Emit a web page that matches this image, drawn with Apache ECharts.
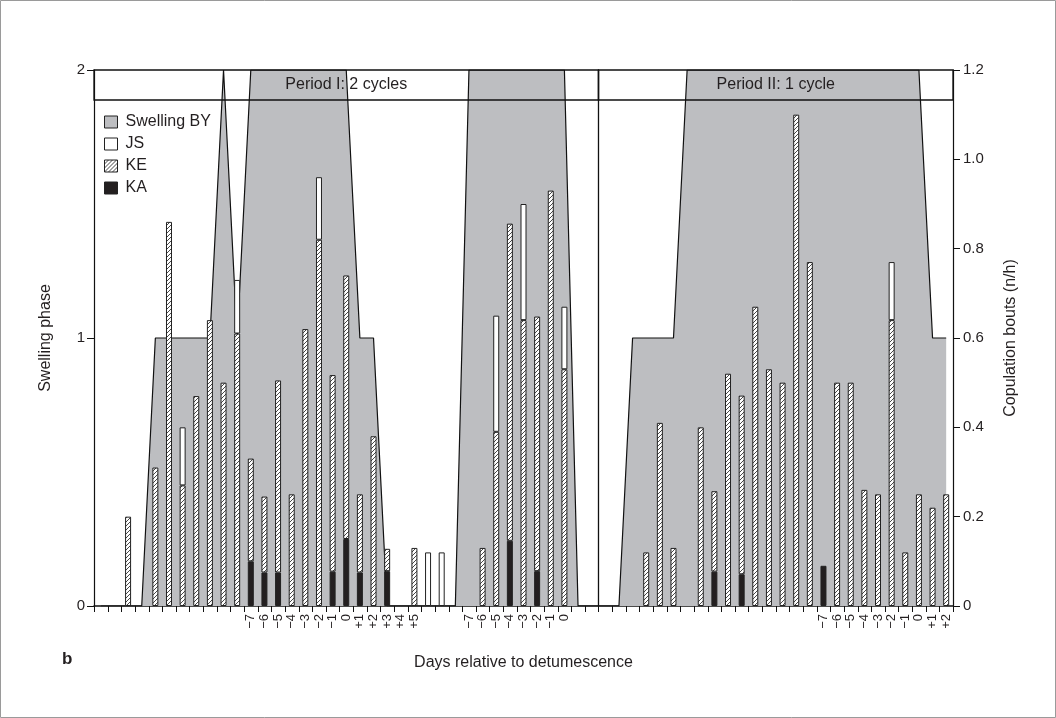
<!DOCTYPE html>
<html><head><meta charset="utf-8">
<script src="https://cdn.jsdelivr.net/npm/echarts@6/dist/echarts.min.js"></script>
<style>html,body{margin:0;padding:0;background:#fff}#c{width:1056px;height:718px}</style>
</head><body><div id="c"></div>
<script>
// ---- data ----
const dayLabels = ['', '', '', '', '', '', '', '', '', '', '',
  '−7', '−6', '−5', '−4', '−3', '−2', '−1', '0', '+1', '+2', '+3', '+4', '+5',
  '', '', '',
  '−7', '−6', '−5', '−4', '−3', '−2', '−1', '0',
  '', '', '', '', '', '', '', '', '', '', '', '', '', '', '', '', '', '',
  '−7', '−6', '−5', '−4', '−3', '−2', '−1', '0', '+1', '+2'];

// swelling phase (left axis, 0–2)
const swelling = [0, 0, 0, 0, 1, 1, 1, 1, 1, 2,
  1, 2, 2, 2, 2, 2, 2, 2, 2, 1,
  1, 0, 0, 0, 0, 0, 0, 2, 2, 2,
  2, 2, 2, 2, 2, 0, 0, 0, 0, 1,
  1, 1, 1, 2, 2, 2, 2, 2, 2, 2,
  2, 2, 2, 2, 2, 2, 2, 2, 2, 2,
  2, 1, 1];

// copulation bouts (right axis, n/h) — stacked segments
const KA = [null, null, null, null, null, null, null, null, null, null,
  null, 0.10, 0.075, 0.075, null, null, null, 0.077, 0.15, 0.075,
  null, 0.078, null, null, null, null, null, null, null, null,
  0.146, null, 0.078, null, null, null, null, null, null, null,
  null, null, null, null, null, 0.077, null, 0.071, null, null,
  null, null, null, 0.09, null, null, null, null, null, null,
  null, null, null];
const KE = [null, null, 0.20, null, 0.31, 0.86, 0.27, 0.47, 0.64, 0.50,
  0.61, 0.23, 0.17, 0.43, 0.25, 0.62, 0.82, 0.44, 0.59, 0.175,
  0.38, 0.05, null, 0.13, null, null, null, null, 0.13, 0.39,
  0.71, 0.64, 0.57, 0.93, 0.53, null, null, null, null, null,
  0.12, 0.41, 0.13, null, 0.40, 0.18, 0.52, 0.40, 0.67, 0.53,
  0.50, 1.10, 0.77, null, 0.50, 0.50, 0.26, 0.25, 0.64, 0.12,
  0.25, 0.22, 0.25];
const JS = [null, null, null, null, null, null, 0.13, null, null, null,
  0.12, null, null, null, null, null, 0.14, null, null, null,
  null, null, null, null, 0.12, 0.12, null, null, null, 0.26,
  null, 0.26, null, null, 0.14, null, null, null, null, null,
  null, null, null, null, null, null, null, null, null, null,
  null, null, null, null, null, null, null, null, 0.13, null,
  null, null, null];

const periods = [
  {label: 'Period I: 2 cycles', from: 0, to: 36},
  {label: 'Period II: 1 cycle', from: 37, to: 62}
];

// ---- styles ----
const FONT = '"Liberation Sans", Arial, Helvetica, sans-serif';
const INK = '#231f20';
const GRAY = '#bdbec1';
function hatch() {
  const c = document.createElement('canvas'); c.width = 4; c.height = 4;
  const g = c.getContext('2d');
  g.fillStyle = '#fff'; g.fillRect(0, 0, 4, 4);
  g.strokeStyle = '#333'; g.lineWidth = 0.9;
  g.beginPath();
  g.moveTo(0, 4); g.lineTo(4, 0);
  g.moveTo(-1, 1); g.lineTo(1, -1);
  g.moveTo(3, 5); g.lineTo(5, 3);
  g.stroke();
  return c;
}
const HATCH = {image: hatch(), repeat: 'repeat'};
const barBorder = {borderColor: '#222', borderWidth: 1};

const chart = echarts.init(document.getElementById('c'), null, {renderer: 'canvas'});
const option = {
  animation: false,
  textStyle: {fontFamily: FONT, color: INK},
  grid: {left: 94, right: 103, top: 70, bottom: 112},
  legend: {
    orient: 'vertical', left: 99, top: 109, itemWidth: 13, itemHeight: 12, itemGap: 6,
    selectedMode: false,
    textStyle: {fontSize: 16, lineHeight: 16, color: INK, fontFamily: FONT, padding: [0, 0, 0, 3]},
    data: [
      {name: 'Swelling BY', icon: 'rect', itemStyle: {color: GRAY, borderColor: '#222', borderWidth: 1}},
      {name: 'JS', icon: 'rect', itemStyle: {color: '#fff', borderColor: '#222', borderWidth: 1}},
      {name: 'KE', icon: 'rect', itemStyle: {color: HATCH, borderColor: '#222', borderWidth: 1}},
      {name: 'KA', icon: 'rect', itemStyle: {color: INK, borderColor: '#222', borderWidth: 1}}
    ]
  },
  xAxis: {
    type: 'category', data: dayLabels, boundaryGap: true,
    name: 'Days relative to detumescence', nameLocation: 'middle', nameGap: 49, nameMoveOverlap: false,
    nameTextStyle: {fontSize: 16, color: INK, fontFamily: FONT},
    axisLine: {show: true, lineStyle: {color: '#111', width: 1.5}},
    axisTick: {show: false},
    axisLabel: {interval: 0, rotate: 90, fontSize: 13, color: INK, margin: 8, fontFamily: FONT}
  },
  yAxis: [
    {
      type: 'value', min: 0, max: 2, interval: 1, position: 'left',
      name: 'Swelling phase', nameLocation: 'middle', nameGap: 40, nameRotate: 90, nameMoveOverlap: false,
      nameTextStyle: {fontSize: 16, color: INK, fontFamily: FONT},
      axisLine: {show: true, lineStyle: {color: '#111', width: 1.2}},
      axisTick: {show: true, length: 7, lineStyle: {color: '#111', width: 1}},
      axisLabel: {fontSize: 15, color: INK, margin: 9, fontFamily: FONT},
      splitLine: {show: false}
    },
    {
      type: 'value', min: 0, max: 1.2, interval: 0.2, position: 'right',
      name: 'Copulation bouts (n/h)', nameLocation: 'middle', nameGap: 50, nameRotate: 90, nameMoveOverlap: false,
      nameTextStyle: {fontSize: 16, color: INK, fontFamily: FONT},
      axisLine: {show: true, lineStyle: {color: '#111', width: 1.2}},
      axisTick: {show: true, length: 7, lineStyle: {color: '#111', width: 1}},
      axisLabel: {fontSize: 15, color: INK, margin: 10, fontFamily: FONT,
        formatter: v => (v === 0 ? '0' : v.toFixed(1))},
      splitLine: {show: false}
    }
  ],
  series: [
    {
      name: 'Swelling BY', type: 'line', yAxisIndex: 0, data: swelling,
      symbol: 'none', z: 1,
      itemStyle: {color: GRAY},
      lineStyle: {color: '#111', width: 1.2},
      areaStyle: {color: GRAY, opacity: 1}
    },
    {name: 'KA', type: 'bar', stack: 'cop', yAxisIndex: 1, data: KA, barWidth: 6, z: 3,
      itemStyle: Object.assign({color: INK}, barBorder)},
    {name: 'KE', type: 'bar', stack: 'cop', yAxisIndex: 1, data: KE, barWidth: 6, z: 3,
      itemStyle: Object.assign({color: HATCH}, barBorder)},
    {name: 'JS', type: 'bar', stack: 'cop', yAxisIndex: 1, data: JS, barWidth: 6, z: 3,
      itemStyle: Object.assign({color: '#fff'}, barBorder)}
  ]
};
chart.setOption(option);

// header band with the period boxes, placed from the axes' own scales
function header() {
  const cx = i => chart.convertToPixel({xAxisIndex: 0}, i);
  const band = cx(1) - cx(0);
  const yTop = chart.convertToPixel({yAxisIndex: 0}, 2);
  const yBase = chart.convertToPixel({yAxisIndex: 0}, 0);
  const bandH = 30;
  const els = [];
  periods.forEach((p, k) => {
    const l = cx(p.from) - band / 2, r = cx(p.to) + band / 2;
    els.push({type: 'rect', z: 100, shape: {x: l, y: yTop, width: r - l, height: bandH},
      style: {fill: 'none', stroke: '#111', lineWidth: 1.3}});
    els.push({type: 'text', z: 101, x: (l + r) / 2, y: yTop + bandH / 2,
      style: {text: p.label, fontSize: 16, fontFamily: FONT, fill: INK, align: 'center', verticalAlign: 'middle'}});
    if (k > 0) {
      els.push({type: 'line', z: 100, shape: {x1: l, y1: yTop, x2: l, y2: yBase},
        style: {stroke: '#111', lineWidth: 1.3}});
    }
  });
  // x-axis boundary ticks drawn from the category scale
  for (let i = 0; i <= dayLabels.length; i++) {
    const x = Math.round(cx(0) - band / 2 + i * band) + 0.5;
    els.push({type: 'line', z: 99, silent: true, shape: {x1: x, y1: yBase, x2: x, y2: yBase + 6},
      style: {stroke: '#111', lineWidth: 1}});
  }
  els.push({type: 'text', z: 101, left: 62, top: 651,
    style: {text: 'b', fontSize: 17, fontWeight: 'bold', fontFamily: FONT, fill: INK}});
  els.push({type: 'rect', z: 0, shape: {x: 0.5, y: 0.5, width: 1055, height: 717},
    style: {fill: 'none', stroke: '#9a9a9a', lineWidth: 1}});
  chart.setOption({graphic: els});
}
header();
</script>
</body></html>
